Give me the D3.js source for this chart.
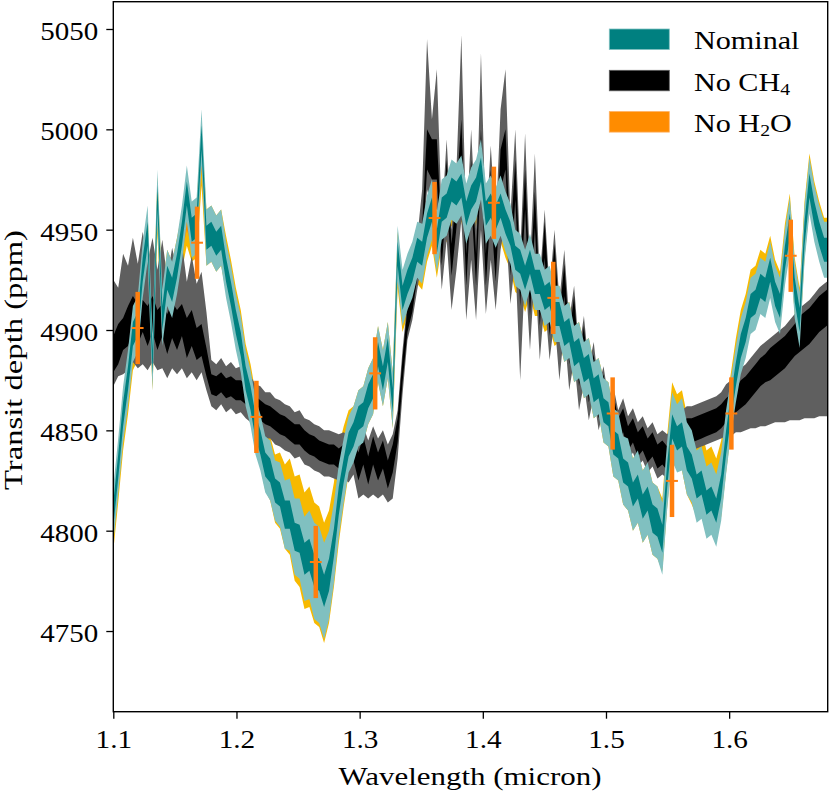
<!DOCTYPE html>
<html><head><meta charset="utf-8">
<script src="https://cdn.jsdelivr.net/npm/d3@7"></script>
<style>
body{margin:0;background:#fff;}
text{font-family:"Liberation Serif","Times New Roman",serif;fill:#000;}
</style>
</head><body>
<svg id="chart" width="830" height="792"></svg>
<script>
// ---- data (transit depth in ppm on a uniform wavelength grid) ----
const wlStart = 1.100;
const wlStep = 0.00398;

const nominalMed = [
4808,4832,4858,4876,4898,4903,4930,4948,4884,4966,
4906,4926,4920,4932,4948,4968,4950,4952,4996,4946,
4948,4943,4946,4930,4918,4904,4893,4876,4866,4852,
4844,4833,4830,4820,4818,4808,4808,4797,4796,4786,
4788,4780,4778,4770,4778,4794,4815,4830,4843,4848,
4856,4858,4867,4872,4888,4876,4890,4865,4938,4916,
4924,4930,4940,4938,4952,4960,4944,4960,4962,4970,
4968,4972,4958,4966,4970,4980,4958,4962,4956,4962,
4954,4948,4936,4934,4926,4934,4924,4924,4916,4918,
4908,4908,4898,4900,4888,4890,4880,4882,4870,4872,
4860,4858,4844,4842,4830,4828,4818,4822,4812,4816,
4806,4804,4796,4828,4852,4846,4848,4836,4832,4822,
4824,4814,4816,4810,4822,4844,4862,4878,4892,4900,
4912,4914,4922,4920,4930,4918,4912,4936,4952,4920,
4905,4948,4972,4958,4948,4940,4940];
const nominalS1 = [
6,6,6,6,6,6,6,6,6,6, 6,6,6,6,6,6,6,6,6,6, 6,6,6,6,6,6,6,6,6,6,
6,6,6,6,6,7,7,7,7,8, 8,8,8,8,8,7,7,6,6,6, 6,6,6,6,6,6,6,6,6,6,
6,6,6,6,6,6,6,6,6,6, 6,6,6,6,6,6,6,6,6,6, 6,6,6,6,6,6,6,6,6,6,
6,6,6,6,6,6,6,6,6,6, 6,6,6,6,6,6,6,6,6,6, 7,7,7,6,6,6,6,6,6,6,
6,6,6,6,6,6,6,6,6,6, 6,6,6,6,6,6,6,6,6,6, 6,6,6,6,6,6,6];
const nominalS2 = [
14,14,14,14,14,14,14,14,14,14, 14,14,14,14,14,14,14,14,14,14,
14,14,14,14,14,14,14,14,14,14, 14,14,15,15,16,17,18,19,20,21,
22,24,24,24,22,20,18,16,14,14, 14,14,14,14,14,14,14,14,14,14,
14,14,14,15,15,15,15,15,15,15, 15,15,15,15,15,15,15,15,15,15,
15,15,14,14,14,14,14,14,14,14, 14,14,14,14,14,14,14,14,14,14,
16,16,17,17,17,18,18,18,18,18, 18,18,18,17,17,17,18,18,18,18,
18,18,18,18,17,16,14,14,14,14, 14,14,14,14,14,14,14,14,14,14,
14,14,14,14,14,14,14];

const noCH4Med = [
4888,4893,4898,4902,4908,4903,4907,4902,4908,4900,
4905,4898,4905,4900,4905,4896,4901,4893,4895,4884,
4873,4872,4874,4871,4872,4870,4870,4868,4865,4862,
4860,4858,4857,4855,4853,4852,4850,4848,4848,4845,
4843,4842,4840,4839,4838,4838,4836,4838,4835,4840,
4832,4840,4830,4840,4832,4838,4828,4836,4850,4880,
4905,4915,4932,4945,4990,4985,4985,4940,4975,4935,
4960,4995,4930,4975,4930,4990,4930,4970,4932,4980,
4990,4935,4975,4920,4970,4915,4960,4910,4945,4905,
4935,4900,4925,4890,4910,4878,4895,4870,4882,4862,
4872,4856,4862,4850,4855,4846,4850,4843,4846,4840,
4843,4837,4839,4836,4840,4846,4848,4850,4850,4851,
4852,4853,4854,4855,4857,4860,4862,4865,4868,4870,
4873,4876,4879,4881,4883,4885,4887,4889,4892,4895,
4898,4900,4902,4905,4908,4910,4912];
const noCH4S1 = [
9,10,8,10,9,10,8,10,9,10, 8,10,9,10,8,10,9,8,8,7,
5,5,5,5,5,5,5,5,5,5, 5,5,5,5,5,5,5,5,5,5, 5,5,5,5,5,5,5,5,5,5,
7,7,7,7,7,7,7,7,6,6, 6,6,6,7,10,10,10,8,10,8,
9,10,8,10,8,10,8,10,8,10, 10,8,10,8,10,8,9,8,9,8,
8,7,8,7,7,6,7,6,6,6, 6,6,6,6,6,6,6,6,6,6, 6,6,6,6,6,6,6,6,6,6,
6,6,6,6,6,6,6,6,7,7, 7,7,7,7,8,8,8,8,8,8, 9,9,9,9,9,9,9];
const noCH4Up = [
37,28,40,30,38,30,42,32,38,30, 40,28,36,30,38,28,36,30,34,25,
12,11,12,11,12,11,12,11,12,11, 12,11,12,11,12,11,12,11,12,11,
12,11,12,11,12,11,12,11,12,11, 14,12,15,12,14,12,15,12,10,10,
10,12,14,25,55,20,45,15,20,15, 20,52,20,25,20,48,20,22,20,30,
40,22,25,18,28,18,28,15,15,15, 15,15,15,15,12,12,12,12,12,10,
10,10,10,10,11,11,11,11,11,11, 11,11,11,12,12,12,12,12,12,12,
12,12,12,12,12,13,13,13,13,13, 13,13,13,13,13,13,13,13,13,13,
13,13,13,13,13,13,13];
const noCH4Down = [
16,16,20,22,24,22,24,22,24,20, 24,22,24,22,24,20,22,18,16,14,
11,12,11,12,11,12,11,12,11,12, 11,12,11,12,11,12,11,12,11,12,
11,12,11,12,11,12,11,12,11,12, 16,22,14,22,16,20,14,20,14,12,
10,10,12,10,20,25,25,20,30,25, 30,40,25,40,25,40,22,35,22,40,
35,22,40,45,40,25,30,25,30,20, 30,25,25,20,25,18,22,15,15,12,
12,12,12,10,11,11,11,11,11,11, 11,11,11,10,10,10,10,10,10,10,
10,10,10,10,11,13,15,16,19,20, 22,25,27,29,30,31,33,35,37,40,
43,44,46,49,51,53,55];

const noH2OMed = [
4804,4828,4854,4872,4894,4899,4928,4944,4884,4962,
4906,4926,4920,4932,4944,4956,4948,4950,4986,4946,
4948,4943,4946,4933,4921,4907,4896,4879,4869,4855,
4846,4834,4831,4821,4820,4812,4812,4801,4800,4790,
4792,4784,4782,4774,4782,4798,4818,4832,4844,4848,
4856,4858,4867,4872,4888,4876,4890,4865,4935,4913,
4921,4927,4937,4935,4949,4957,4941,4957,4959,4967,
4965,4969,4955,4963,4967,4977,4955,4959,4953,4959,
4951,4945,4933,4931,4923,4931,4921,4921,4913,4915,
4906,4908,4898,4900,4888,4890,4880,4882,4870,4872,
4860,4858,4844,4842,4830,4828,4818,4822,4812,4816,
4806,4804,4798,4830,4856,4850,4850,4838,4834,4828,
4830,4820,4822,4816,4826,4846,4864,4882,4896,4904,
4916,4918,4926,4924,4933,4921,4915,4939,4954,4922,
4907,4950,4974,4960,4950,4942,4942];
const noH2OS1 = [
6,6,6,6,6,6,6,6,6,6, 6,6,6,6,6,6,6,6,6,6, 6,6,6,6,6,6,6,6,6,6,
6,6,6,6,6,7,7,7,7,8, 8,8,8,8,8,7,7,6,6,6, 6,6,6,6,6,6,6,6,6,6,
6,6,6,6,6,6,6,6,6,6, 6,6,6,6,6,6,6,6,6,6, 6,6,6,6,6,6,6,6,6,6,
6,6,6,6,6,6,6,6,6,6, 6,6,6,6,6,6,6,6,6,6, 6,6,6,6,6,6,6,6,6,6,
6,6,6,6,6,6,6,6,6,6, 6,6,6,6,6,6,6,6,6,6, 6,6,6,6,6,6,6];
const noH2OS2 = [
14,14,14,14,14,14,14,14,14,14, 14,14,14,14,14,14,14,14,14,14,
14,14,14,14,14,14,14,14,14,14, 14,14,16,17,19,21,24,26,28,29,
30,30,30,30,28,26,24,20,16,14, 14,14,14,14,14,14,14,14,14,14,
14,14,14,15,15,15,15,15,15,15, 15,15,15,15,15,15,15,15,15,15,
15,15,14,14,14,14,14,14,14,14, 14,14,14,14,14,14,14,14,14,14,
16,16,17,17,17,18,18,18,18,18, 18,18,18,18,18,18,20,20,21,21,
20,20,20,20,19,17,15,14,14,14, 14,14,14,14,14,14,14,14,14,14,
14,14,14,14,14,14,14];

// binned data points with error bars
const obsWl  = [1.1198,1.1680,1.2162,1.2644,1.3126,1.3608,1.4090,1.4572,1.5054,1.5536,1.6018,1.6500];
const obsVal = [4901,4943.5,4856.7,4784.4,4878.4,4955.8,4963.4,4916,4858.4,4824.8,4858.4,4937];
const obsErr = [18,18,18,18,18,18,18,18,18,18,18,18];
const obsWlErr = 0.0048;

const xTicks = [1.1,1.2,1.3,1.4,1.5,1.6];
const yTicks = [4750,4800,4850,4900,4950,5000,5050];
const legendLabels = [["Nominal",""],["No CH","4"],["No H","2","O"]];

// ---- layout ----
const svg = d3.select("#chart");
const L = 113.3, R = 827.7, T = 1.7, B = 711.7;
const x = d3.scaleLinear().domain([1.1, 1.68]).range([L, R]);
const y = d3.scaleLinear().domain([4709.8, 5063.6]).range([B, T]);

svg.append("defs").append("clipPath").attr("id","plotclip")
  .append("rect").attr("x",L).attr("y",T).attr("width",R-L).attr("height",B-T);

const plot = svg.append("g").attr("clip-path","url(#plotclip)");
const wlAt = i => wlStart + i*wlStep;

function drawBand(lo, hi, color){
  const idx = d3.range(lo.length);
  const area = d3.area()
    .x(i => x(wlAt(i)))
    .y0(i => y(lo[i]))
    .y1(i => y(hi[i]));
  plot.append("path").datum(idx).attr("d", area).attr("fill", color).attr("stroke","none");
}
function sym(med, s, sign){ return med.map((v,i)=> v + sign*s[i]); }

// No H2O (bottom layer)
drawBand(sym(noH2OMed,noH2OS2,-1), sym(noH2OMed,noH2OS2,1), "#f7b900");
drawBand(sym(noH2OMed,noH2OS1,-1), sym(noH2OMed,noH2OS1,1), "#ff8c00");
// No CH4
drawBand(sym(noCH4Med,noCH4Down,-1), sym(noCH4Med,noCH4Up,1), "#5f5f5f");
drawBand(sym(noCH4Med,noCH4S1,-1), sym(noCH4Med,noCH4S1,1), "#000000");
// Nominal (top)
drawBand(sym(nominalMed,nominalS2,-1), sym(nominalMed,nominalS2,1), "#80c0c0");
drawBand(sym(nominalMed,nominalS1,-1), sym(nominalMed,nominalS1,1), "#008080");

// error bars
const eb = svg.append("g");
obsWl.forEach((w,i)=>{
  eb.append("line").attr("x1",x(w)).attr("x2",x(w))
    .attr("y1",y(obsVal[i]-obsErr[i])).attr("y2",y(obsVal[i]+obsErr[i]))
    .attr("stroke","#ff7f0e").attr("stroke-width",4.5);
  eb.append("line").attr("x1",x(w-obsWlErr)).attr("x2",x(w+obsWlErr))
    .attr("y1",y(obsVal[i])).attr("y2",y(obsVal[i]))
    .attr("stroke","#ff7f0e").attr("stroke-width",2);
});

// frame
svg.append("rect").attr("x",L).attr("y",T).attr("width",R-L).attr("height",B-T)
  .attr("fill","none").attr("stroke","#000").attr("stroke-width",1.4);

function tickWidth(s){ let w=0; for(const c of s){ w += (c==="."?7.5:14.5);} return w; }

// y axis
const yAx = svg.append("g").attr("transform",`translate(${L},0)`)
  .call(d3.axisLeft(y).tickValues(yTicks).tickSize(7).tickFormat(d3.format("d")));
yAx.select(".domain").remove();
yAx.selectAll(".tick line").attr("stroke","#000").attr("stroke-width",1.3);
yAx.selectAll(".tick text").attr("x",-15).attr("dy",null).attr("y",10.5)
  .attr("font-size",26).attr("font-family","Liberation Serif")
  .attr("textLength", d => tickWidth(String(d))).attr("lengthAdjust","spacingAndGlyphs");

// x axis
const xAx = svg.append("g").attr("transform",`translate(0,${B})`)
  .call(d3.axisBottom(x).tickValues(xTicks).tickSize(7).tickFormat(d3.format(".1f")));
xAx.select(".domain").remove();
xAx.selectAll(".tick line").attr("stroke","#000").attr("stroke-width",1.3);
xAx.selectAll(".tick text").attr("dy",null).attr("y",36.6)
  .attr("font-size",26).attr("font-family","Liberation Serif")
  .attr("textLength", d => tickWidth(d3.format(".1f")(d))).attr("lengthAdjust","spacingAndGlyphs");

// axis labels
svg.append("text").attr("x",470).attr("y",785).attr("text-anchor","middle")
  .attr("font-size",26).attr("textLength",263).attr("lengthAdjust","spacingAndGlyphs")
  .text("Wavelength (micron)");
svg.append("text").attr("transform","translate(21.7,360) rotate(-90)").attr("text-anchor","middle")
  .attr("font-size",26).attr("textLength",260).attr("lengthAdjust","spacingAndGlyphs")
  .text("Transit depth (ppm)");

// legend
const legendColors = ["#008080","#000000","#ff8c00"];
const legendEdges = ["#80c0c0","#5f5f5f","#ffb060"];
const lg = svg.append("g");
legendLabels.forEach((lab,i)=>{
  const top = 29 + i*41.3;
  lg.append("rect").attr("x",609.3).attr("y",top).attr("width",60).attr("height",20.5)
    .attr("fill",legendColors[i]).attr("stroke",legendEdges[i]).attr("stroke-width",0.8);
  const t = lg.append("g").attr("transform",`translate(694,${top+20.3}) scale(1.16,1)`)
    .append("text").attr("font-size",26);
  t.append("tspan").text(lab[0]);
  if(lab[1]) t.append("tspan").attr("font-size",17).attr("dy",4).text(lab[1]);
  if(lab[2]) t.append("tspan").attr("dy",-4).text(lab[2]);
});
</script>
</body></html>
